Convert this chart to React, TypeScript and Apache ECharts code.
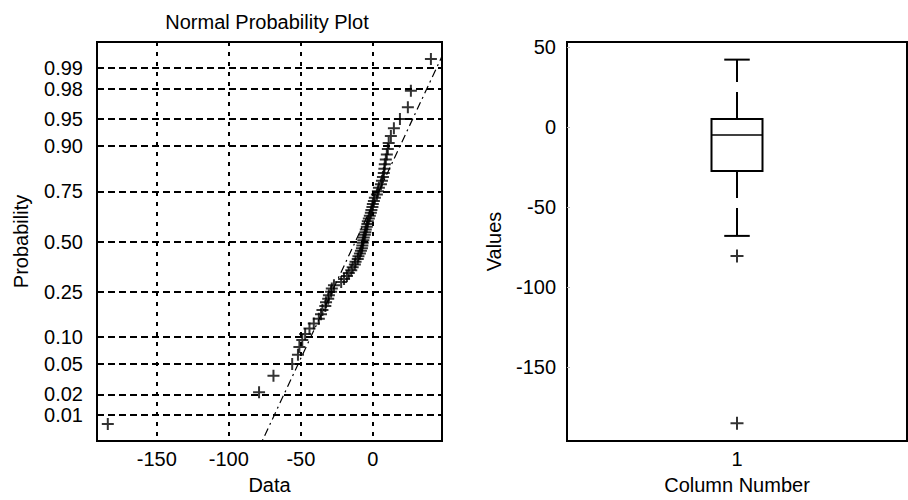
import React, { useEffect, useRef } from "react";
import * as echarts from "echarts";

// ---------- data ----------
// Normal probability plot: sorted sample values (n = 70)
const sampleValues = [
  -184, -79, -69, -56, -52, -51, -49, -47, -44, -41,
  -37.5, -36, -35, -33, -32.5, -31, -30.5, -29, -28.5, -27,
  -22, -20, -18, -16.7, -15, -14, -12.5, -12, -10.5, -10,
  -9, -8.3, -7.6, -7.3, -7, -6.6, -6.3, -5.6, -5.2, -4.9,
  -4.2, -3.8, -3.5, -2.8, -2.1, -1.4, -1, -0.3, 0, 0.7,
  1.4, 2.8, 3.5, 4.2, 5.6, 6.3, 7, 7.6, 8, 8.3,
  9, 9.7, 10.4, 11, 12.5, 14.6, 18.8, 24.3, 26.4, 40.3,
];
const probTicks = [0.01, 0.02, 0.05, 0.1, 0.25, 0.5, 0.75, 0.9, 0.95, 0.98, 0.99];
const dataTicks = [-150, -100, -50, 0];
const dataRange = [-191.5, 48];
const probRange = [0.0037, 0.9963];
// reference line through the quartiles
const refQuartileValues = [-28.4, 4.2];
const refQuartileProbs = [0.25, 0.75];

// Box plot
const boxCategories = ["1"];
const boxStats = [-68, -27.5, -5, 5, 42]; // low whisker, Q1, median, Q3, high whisker
const boxOutliers = [-80.5, -185];
const valueTicks = [-150, -100, -50, 0, 50];
const valueRange = [-196, 53];

// ---------- helpers ----------
function norminv(p: number): number {
  const a = [-3.969683028665376e1, 2.209460984245205e2, -2.759285104469687e2, 1.38357751867269e2, -3.066479806614716e1, 2.506628277459239];
  const b = [-5.447609879822406e1, 1.615858368580409e2, -1.556989798598866e2, 6.680131188771972e1, -1.328068155288572e1];
  const c = [-7.784894002430293e-3, -3.223964580411365e-1, -2.400758277161838, -2.549732539343734, 4.374664141464968, 2.938163982698783];
  const d = [7.784695709041462e-3, 3.224671290700398e-1, 2.445134137142996, 3.754408661907416];
  const plow = 0.02425;
  if (p < plow) {
    const q = Math.sqrt(-2 * Math.log(p));
    return (((((c[0] * q + c[1]) * q + c[2]) * q + c[3]) * q + c[4]) * q + c[5]) / ((((d[0] * q + d[1]) * q + d[2]) * q + d[3]) * q + 1);
  }
  if (p > 1 - plow) {
    const q = Math.sqrt(-2 * Math.log(1 - p));
    return -(((((c[0] * q + c[1]) * q + c[2]) * q + c[3]) * q + c[4]) * q + c[5]) / ((((d[0] * q + d[1]) * q + d[2]) * q + d[3]) * q + 1);
  }
  const q = p - 0.5;
  const r = q * q;
  return ((((((a[0] * r + a[1]) * r + a[2]) * r + a[3]) * r + a[4]) * r + a[5]) * q) / (((((b[0] * r + b[1]) * r + b[2]) * r + b[3]) * r + b[4]) * r + 1);
}

const FONT = "Liberation Sans, Arial, Helvetica, sans-serif";
const FS = 20;
const PLUS = "path://M6,0L6,12M0,6L12,6";

export default function App() {
  const ref = useRef<HTMLDivElement>(null);
  useEffect(() => {
    if (!ref.current) return;
    const chart = echarts.init(ref.current, undefined, { renderer: "svg" });
    const n = sampleValues.length;
    const zTicks = probTicks.map(norminv);
    const points = sampleValues.map((v, i) => [v, norminv((i + 0.5) / n)]);
    const zq1 = norminv(refQuartileProbs[0]);
    const zq3 = norminv(refQuartileProbs[1]);
    const slope = (zq3 - zq1) / (refQuartileValues[1] - refQuartileValues[0]);
    const refLine = dataRange.map((x) => [x, zq1 + (x - refQuartileValues[0]) * slope]);

    const labelFor = (z: number) => {
      let best = 0;
      zTicks.forEach((t, i) => {
        if (Math.abs(t - z) < Math.abs(zTicks[best] - z)) best = i;
      });
      return probTicks[best].toFixed(2);
    };

    const option: any = {
      animation: false,
      backgroundColor: "#fff",
      textStyle: { fontFamily: FONT, color: "#000" },
      graphic: [
        {
          type: "text",
          x: 267,
          y: 22,
          style: {
            text: "Normal Probability Plot",
            textAlign: "center",
            textVerticalAlign: "middle",
            fontSize: FS,
            fontFamily: FONT,
            fill: "#000",
          },
        },
      ],
      grid: [
        { left: 97, top: 42, width: 345, height: 401, show: true, borderColor: "#000", borderWidth: 2, backgroundColor: "transparent" },
        { left: 567, top: 42, width: 340, height: 401, show: true, borderColor: "#000", borderWidth: 2, backgroundColor: "transparent" },
      ],
      xAxis: [
        {
          type: "value",
          gridIndex: 0,
          min: dataRange[0],
          max: dataRange[1],
          name: "Data",
          nameLocation: "middle",
          nameGap: 34,
          nameTextStyle: { fontSize: FS, color: "#000", fontFamily: FONT },
          axisLine: { show: false },
          axisTick: { show: false, customValues: dataTicks },
          axisLabel: { customValues: dataTicks, fontSize: FS, color: "#000", fontFamily: FONT, margin: 8 },
          splitLine: { show: true, lineStyle: { color: "#000", width: 2, type: [4, 6] } },
        },
        {
          type: "category",
          gridIndex: 1,
          data: boxCategories,
          name: "Column Number",
          nameLocation: "middle",
          nameGap: 34,
          nameTextStyle: { fontSize: FS, color: "#000", fontFamily: FONT },
          axisLine: { show: false },
          axisTick: { show: false },
          axisLabel: { fontSize: FS, color: "#000", fontFamily: FONT, margin: 8 },
          splitLine: { show: false },
        },
      ],
      yAxis: [
        {
          type: "value",
          gridIndex: 0,
          min: norminv(probRange[0]),
          max: norminv(probRange[1]),
          name: "Probability",
          nameLocation: "middle",
          nameRotate: 90,
          nameGap: 66,
          nameTextStyle: { fontSize: FS, color: "#000", fontFamily: FONT },
          axisLine: { show: false },
          axisTick: { show: false, customValues: zTicks },
          axisLabel: { customValues: zTicks, fontSize: FS, color: "#000", fontFamily: FONT, margin: 14, formatter: (v: number) => labelFor(v) },
          splitLine: { show: true, lineStyle: { color: "#000", width: 2, type: [7, 4] } },
        },
        {
          type: "value",
          gridIndex: 1,
          min: valueRange[0],
          max: valueRange[1],
          name: "Values",
          nameLocation: "middle",
          nameRotate: 90,
          nameGap: 63,
          nameTextStyle: { fontSize: FS, color: "#000", fontFamily: FONT },
          axisLine: { show: false },
          axisTick: { show: true, inside: true, length: 3, customValues: valueTicks, lineStyle: { color: "#bbb", width: 1 } },
          axisLabel: { customValues: valueTicks, fontSize: FS, color: "#000", fontFamily: FONT, margin: 11 },
          splitLine: { show: false },
        },
      ],
      series: [
        {
          type: "line",
          xAxisIndex: 0,
          yAxisIndex: 0,
          data: refLine,
          symbol: "none",
          clip: true,
          lineStyle: { color: "#000", width: 1.2, type: [8, 4, 2, 4] },
          z: 3,
        },
        {
          type: "scatter",
          xAxisIndex: 0,
          yAxisIndex: 0,
          data: points,
          symbol: PLUS,
          symbolSize: 12,
          itemStyle: { color: "transparent", borderColor: "#000", borderWidth: 2 },
          z: 4,
        },
        {
          type: "custom",
          xAxisIndex: 1,
          yAxisIndex: 1,
          data: [[0, ...boxStats]],
          renderItem: (params: any, api: any) => {
            const cx = api.coord([api.value(0), 0])[0];
            const y = [1, 2, 3, 4, 5].map((i) => api.coord([api.value(0), api.value(i)])[1]);
            const band = api.size([1, 0])[0];
            const boxW = band * 0.15;
            const capW = band * 0.075;
            const stroke = { stroke: "#000", lineWidth: 2, fill: "none" };
            const dash = { stroke: "#000", lineWidth: 2, lineDash: [27, 10] };
            return {
              type: "group",
              children: [
                { type: "line", shape: { x1: cx, y1: y[3], x2: cx, y2: y[4] }, style: dash },
                { type: "line", shape: { x1: cx, y1: y[1], x2: cx, y2: y[0] }, style: dash },
                { type: "line", shape: { x1: cx - capW / 2, y1: y[4], x2: cx + capW / 2, y2: y[4] }, style: stroke },
                { type: "line", shape: { x1: cx - capW / 2, y1: y[0], x2: cx + capW / 2, y2: y[0] }, style: stroke },
                { type: "rect", shape: { x: cx - boxW / 2, y: y[3], width: boxW, height: y[1] - y[3] }, style: stroke },
                { type: "line", shape: { x1: cx - boxW / 2, y1: y[2], x2: cx + boxW / 2, y2: y[2] }, style: { stroke: "#000", lineWidth: 1.5 } },
              ],
            };
          },
          z: 3,
        },
        {
          type: "scatter",
          xAxisIndex: 1,
          yAxisIndex: 1,
          data: boxOutliers.map((v) => [0, v]),
          symbol: PLUS,
          symbolSize: 13,
          itemStyle: { color: "transparent", borderColor: "#000", borderWidth: 2 },
          z: 4,
        },
      ],
    };
    chart.setOption(option);
    return () => chart.dispose();
  }, []);
  return <div ref={ref} style={{ position: "fixed", left: 0, top: 0, width: 908, height: 500 }} />;
}
